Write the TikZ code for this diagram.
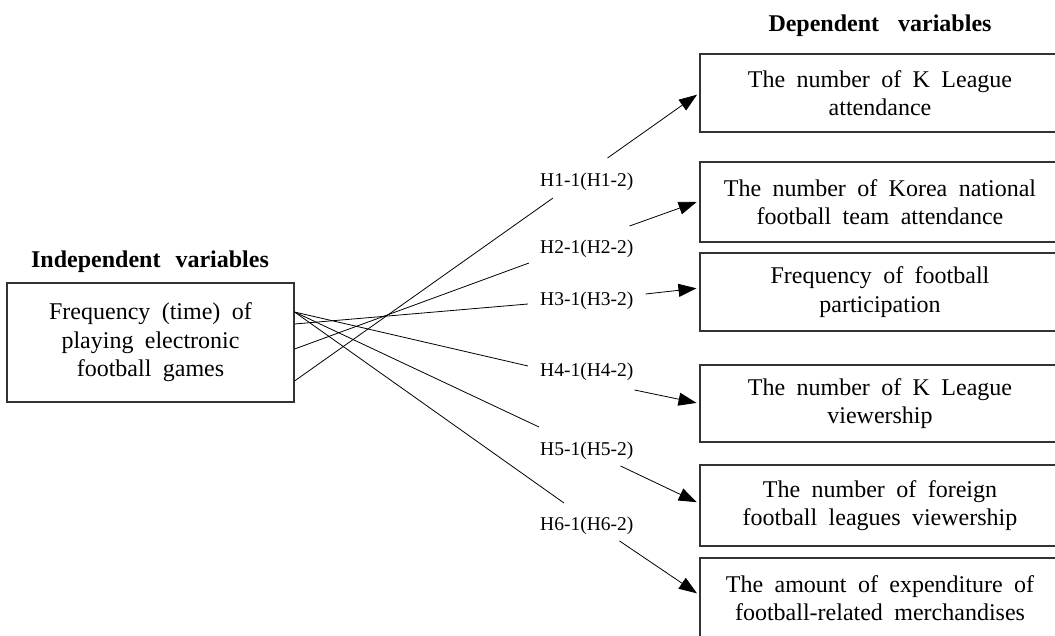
\documentclass[tikz,border=0pt]{standalone}
\usepackage{fontspec}
\setmainfont{Liberation Serif}[WordSpace=1.9]
\usetikzlibrary{arrows.meta,calc}
\begin{document}
\begin{tikzpicture}[x=1pt,y=-1pt,
  box/.style={draw=black!80, line width=1.1pt, inner sep=0pt, align=center, font=\fontsize{24}{28.5}\selectfont},
  dvbox/.style={box, minimum width=360pt, minimum height=79pt},
  hlab/.style={inner sep=0pt, anchor=base west, font=\fontsize{19.5}{22}\selectfont},
  vtitle/.style={inner sep=0pt, anchor=base, font=\fontsize{24}{28}\selectfont\bfseries},
  link/.style={line width=0.8pt},
  arr/.style={line width=0.8pt, -{Triangle[length=18pt,width=13pt]}, shorten >=3pt}]
\useasboundingbox (0,0) rectangle (1055,636);
\clip (0,0) rectangle (1055,636);

% titles
\node[vtitle] (ivt) at (150,268) {Independent\hspace{15pt}variables};
\node[vtitle] (dvt) at (880,32) {Dependent\hspace{19pt}variables};

% independent variable box
\node[box, minimum width=287pt, minimum height=119pt] (iv) at (150.5,342.5)
  {Frequency (time) of\\playing electronic\\football games};

% dependent variable boxes
\node[dvbox, minimum height=78pt] (d1) at (880,93) {The number of K League\\attendance};
\node[dvbox, minimum height=80pt] (d2) at (880,202) {The number of Korea national\\football team attendance};
\node[dvbox, minimum height=78pt] (d3) at (880,292) {Frequency of football\\participation};
\node[dvbox, minimum height=77pt] (d4) at (880,403.5) {The number of K League\\viewership};
\node[dvbox, minimum height=81pt] (d5) at (880,505.5) {The number of foreign\\football leagues viewership};
\node[dvbox, minimum height=80pt] (d6) at (880,598) {The amount of expenditure of\\football-related merchandises};

% hypothesis labels
\node[hlab] (h1) at (540,187) {H1-1(H1-2)};
\node[hlab] (h2) at (540,254) {H2-1(H2-2)};
\node[hlab] (h3) at (540,306) {H3-1(H3-2)};
\node[hlab] (h4) at (540,377) {H4-1(H4-2)};
\node[hlab] (h5) at (540,455) {H5-1(H5-2)};
\node[hlab] (h6) at (540,530) {H6-1(H6-2)};

% lines from independent variable to labels
\draw[link] ([yshift=-38.5pt]iv.east) -- ($(h1.base west)+(13,11)$);
\draw[link] ([yshift=-6.5pt]iv.east) -- ($(h2.base west)+(-11,9)$);
\draw[link] ([yshift=18.5pt]iv.east) -- ($(h3.base west)+(-12,-2)$);
\draw[link] ([yshift=30.5pt]iv.east) -- ($(h4.base west)+(-12,-11)$);
\draw[link] ([yshift=30.5pt]iv.east) -- ($(h5.base west)+(-1,-28)$);
\draw[link] ([yshift=30.5pt]iv.east) -- ($(h6.base west)+(24,-27)$);

% arrows from labels to dependent variables
\draw[arr] ($(h1.base east)+(-26,-29)$) -- (d1.west);
\draw[arr] ($(h2.base east)+(-4,-28)$) -- ([yshift=1pt]d2.west);
\draw[arr] ($(h3.base east)+(12,-12)$) -- ([yshift=4pt]d3.west);
\draw[arr] ($(h4.base east)+(1,13)$) -- (d4.west);
\draw[arr] ($(h5.base east)+(-13,11)$) -- ([yshift=2pt]d5.west);
\draw[arr] ($(h6.base east)+(-14,11)$) -- ([yshift=3pt]d6.west);
\end{tikzpicture}
\end{document}
